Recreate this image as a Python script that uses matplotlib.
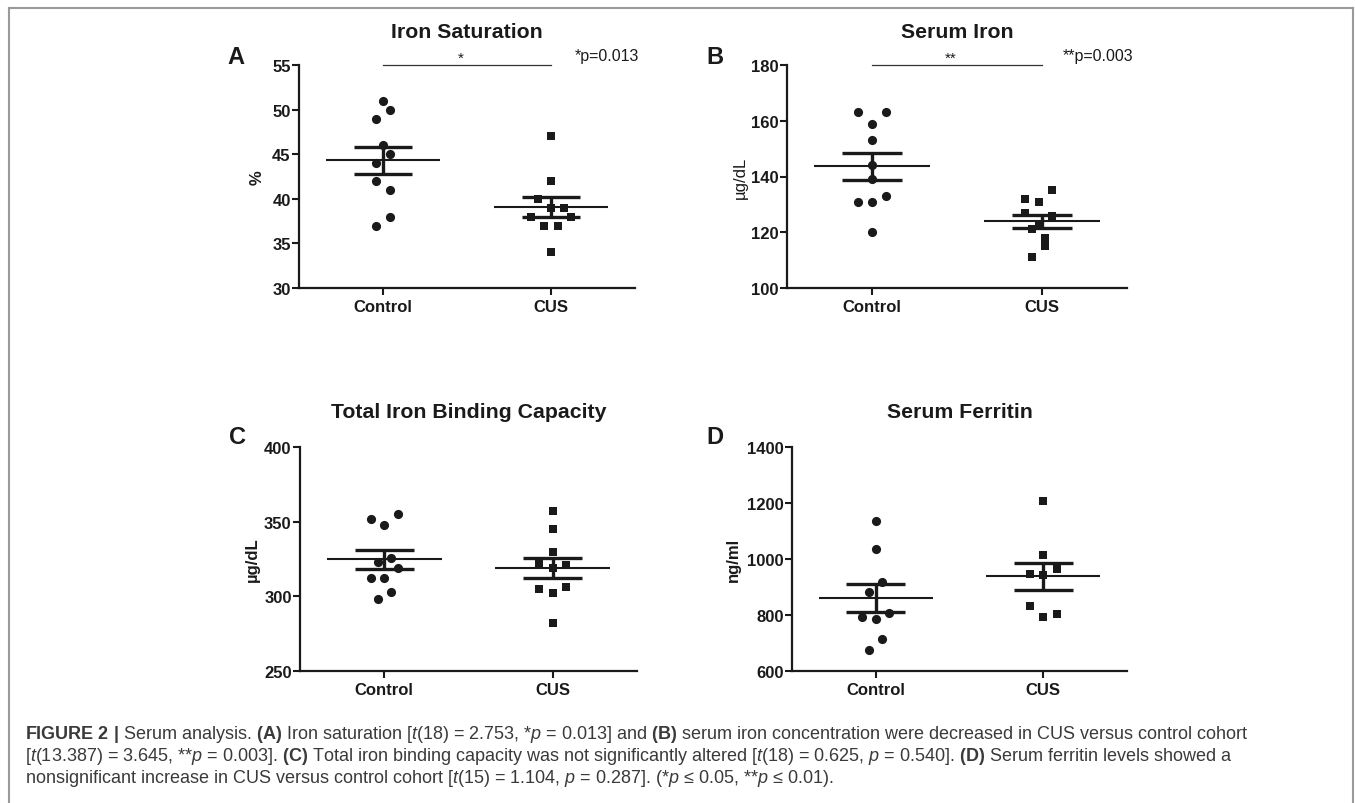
import numpy as np
import matplotlib
matplotlib.use("Agg")
import matplotlib.pyplot as plt
from matplotlib.lines import Line2D

plt.rcParams['font.family'] = ['Liberation Sans', 'DejaVu Sans']
plt.rcParams['mathtext.fontset'] = 'custom'
plt.rcParams['mathtext.rm'] = 'Liberation Sans'
plt.rcParams['mathtext.it'] = 'Liberation Sans:italic'
plt.rcParams['mathtext.bf'] = 'Liberation Sans:bold'

# ---------------- data ----------------
groups = ["Control", "CUS"]

sat_control = [51, 50, 49, 46, 45, 44, 42, 41, 38, 37]
sat_cus = [47, 42, 40, 39, 39, 38, 38, 37, 37, 34]

iron_control = [163, 163, 159, 153, 144, 139, 133, 131, 131, 120]
iron_cus = [135, 132, 131, 127, 126, 123, 121, 118, 115, 111]

tibc_control = [355, 352, 348, 326, 323, 319, 312, 312, 303, 298]
tibc_cus = [357, 345, 330, 322, 321, 319, 305, 306, 302, 282]

ferr_control = [1137, 1037, 919, 883, 806, 792, 787, 713, 676]
ferr_cus = [1206, 1014, 965, 948, 942, 831, 802, 793]

titles = ["Iron Saturation", "Serum Iron", "Total Iron Binding Capacity", "Serum Ferritin"]
ylabels = ["%", "µg/dL", "µg/dL", "ng/ml"]
letters = ["A", "B", "C", "D"]
yticks_list = [[30, 35, 40, 45, 50, 55], [100, 120, 140, 160, 180],
               [250, 300, 350, 400], [600, 800, 1000, 1200, 1400]]
sig_marks = ["*", "**", None, None]
sig_texts = ["*p=0.013", "**p=0.003", None, None]

# horizontal jitter (in steps) of each dot, for drawing only
jit_sat_c = [0, 1, -1, 0, 1, -1, -1, 1, 1, -1]
jit_sat_u = [0, 0, -2, 0, 2, -3, 3, -1, 1, 0]
jit_iron_c = [-2, 2, 0, 0, 0, 0, 2, -2, 0, 0]
jit_iron_u = [1.5, -2.5, -0.5, -2.5, 1.5, -0.5, -1.5, 0.5, 0.5, -1.5]
jit_tibc_c = [2, -2, 0, 1, -1, 2, -2, 0, 1, -1]
jit_tibc_u = [0, 0, 0, -2, 2, 0, -2, 2, 0, 0]
jit_ferr_c = [0, 0, 1, -1, 2, -2, 0, 1, -1]
jit_ferr_u = [0, 0, 2, -2, 0, -2, 2, 0]

panels = [
    (sat_control, sat_cus, jit_sat_c, jit_sat_u),
    (iron_control, iron_cus, jit_iron_c, jit_iron_u),
    (tibc_control, tibc_cus, jit_tibc_c, jit_tibc_u),
    (ferr_control, ferr_cus, jit_ferr_c, jit_ferr_u),
]

# ---------------- layout (pixels) ----------------
W, H = 1355, 804
fig = plt.figure(figsize=(W / 100, H / 100), dpi=100)
fig.patch.set_facecolor("white")

def fx(x):
    return x / W

def fy(y):
    return 1 - y / H

boxes = [(299, 635, 66, 289), (787, 1127, 66, 289),
         (300, 637, 448, 672), (792, 1127, 448, 672)]
letter_pos = [(236, 57), (715, 57), (238, 438), (715, 438)]
ylabel_x = [257, 740, 252, 733]
title_y = [32, 32, 413, 413]
sig_text_pos = [(575, 56), (1063, 56), None, None]
ylabel_weight = ["bold", "normal", "bold", "bold"]

ink = "#1a1a1a"
step = 0.04

for i, (box, (c, u, jc, ju)) in enumerate(zip(boxes, panels)):
    x0, x1, y0, y1 = box
    ax = fig.add_axes([fx(x0), fy(y1), fx(x1) - fx(x0), (y1 - y0) / H])
    ax.set_xlim(-0.5, 1.5)
    yt = yticks_list[i]
    ax.set_ylim(yt[0], yt[-1])
    ax.set_yticks(yt)
    ax.set_xticks([0, 1])
    ax.set_xticklabels(groups)
    for s in ["top", "right"]:
        ax.spines[s].set_visible(False)
    for s in ["left", "bottom"]:
        ax.spines[s].set_linewidth(1.6)
        ax.spines[s].set_color(ink)
    ax.tick_params(axis="both", length=5, width=1.5, color=ink,
                   labelsize=12, labelcolor=ink)
    ax.tick_params(axis="x", pad=3)
    ax.tick_params(axis="y", pad=1)
    for lab in ax.get_xticklabels() + ax.get_yticklabels():
        lab.set_fontweight("bold")
    ax.patch.set_alpha(0)

    for gi, (vals, jit, mk, ms) in enumerate([(c, jc, "o", 6.6), (u, ju, "s", 6.0)]):
        vals = np.asarray(vals, dtype=float)
        xs = gi + np.asarray(jit) * step
        ax.plot(xs, vals, linestyle="none", marker=mk, markersize=ms,
                color=ink, markeredgewidth=0, clip_on=False, zorder=3)
        m = vals.mean()
        se = vals.std(ddof=1) / np.sqrt(len(vals))
        ax.hlines(m, gi - 0.34, gi + 0.34, color=ink, lw=1.5, zorder=4)
        ax.hlines([m - se, m + se], gi - 0.175, gi + 0.175, color=ink, lw=2.4, zorder=4)
        ax.vlines(gi, m - se, m + se, color=ink, lw=2.4, zorder=4)

    # title, letter, ylabel
    fig.text(fx((x0 + x1) / 2), fy(title_y[i]), titles[i], ha="center", va="center",
             fontsize=15.3, fontweight="bold", color=ink)
    lx, ly = letter_pos[i]
    fig.text(fx(lx), fy(ly), letters[i], ha="center", va="center",
             fontsize=17, fontweight="bold", color=ink)
    fig.text(fx(ylabel_x[i]), fy((y0 + y1) / 2), ylabels[i], ha="center", va="center",
             rotation=90, fontsize=12, fontweight=ylabel_weight[i], color=ink)

    if sig_marks[i] is not None:
        ax.plot([0, 1], [yt[-1], yt[-1]], color="#333333", lw=0.9, clip_on=False)
        ax.text(0.46, yt[-1], sig_marks[i], ha="center", va="bottom",
                fontsize=11, color=ink)
        sx, sy = sig_text_pos[i]
        fig.text(fx(sx), fy(sy), sig_texts[i], ha="left", va="center",
                 fontsize=11.5, color=ink)

# frame
frame_c = "#9a9a9a"
fig.add_artist(Line2D([fx(8.5), fx(8.5)], [fy(8.5), 0], color=frame_c, lw=1.5))
fig.add_artist(Line2D([fx(8.5), fx(1353)], [fy(8.5), fy(8.5)], color=frame_c, lw=1.5))
fig.add_artist(Line2D([fx(1353), fx(1353)], [fy(8.5), 0], color=frame_c, lw=1.5))

# caption
cap_lines = [
    r"$\mathbf{FIGURE\ 2\ |}$ Serum analysis. $\mathbf{(A)}$ Iron saturation [$\mathit{t}$(18) = 2.753, *$\mathit{p}$ = 0.013] and $\mathbf{(B)}$ serum iron concentration were decreased in CUS versus control cohort",
    r"[$\mathit{t}$(13.387) = 3.645, **$\mathit{p}$ = 0.003]. $\mathbf{(C)}$ Total iron binding capacity was not significantly altered [$\mathit{t}$(18) = 0.625, $\mathit{p}$ = 0.540]. $\mathbf{(D)}$ Serum ferritin levels showed a",
    r"nonsignificant increase in CUS versus control cohort [$\mathit{t}$(15) = 1.104, $\mathit{p}$ = 0.287]. (*$\mathit{p}$ ≤ 0.05, **$\mathit{p}$ ≤ 0.01).",
]
cap_y = [735, 757, 779]
for txt, yy in zip(cap_lines, cap_y):
    fig.text(fx(25), fy(yy), txt, ha="left", va="center", fontsize=13, color="#3a3a3a")

fig.savefig("out.png", dpi=100, facecolor="white")
